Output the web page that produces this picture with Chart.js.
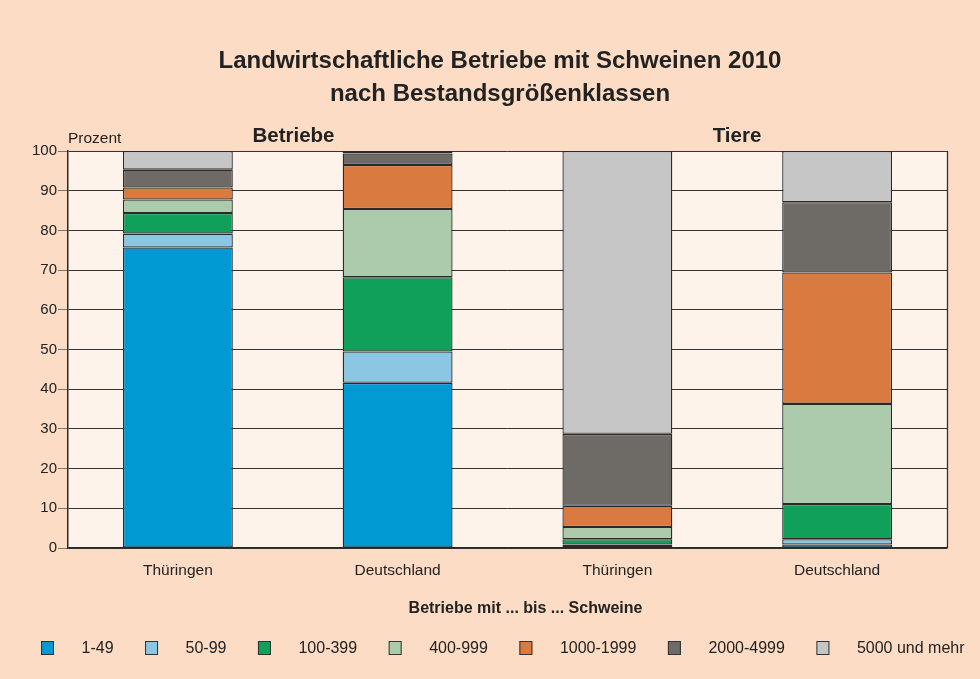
<!DOCTYPE html>
<html>
<head>
<meta charset="utf-8">
<script src="https://cdn.jsdelivr.net/npm/chart.js@4/dist/chart.umd.min.js"></script>
<style>
html,body{margin:0;padding:0;background:#FCDCC4;}
canvas{display:block;}
</style>
</head>
<body>
<canvas id="c" width="980" height="679"></canvas>
<script>
// ---- data ----
const categories = ['Thüringen', 'Deutschland', 'Thüringen', 'Deutschland'];
const groupLabels = ['Betriebe', 'Tiere'];
const seriesNames = ['1-49', '50-99', '100-399', '400-999', '1000-1999', '2000-4999', '5000 und mehr'];
const s1_49      = [75.7, 41.6, 0.5, 0.9];
const s50_99     = [3.5, 7.9, 0.4, 1.3];
const s100_399   = [5.2, 18.7, 1.3, 8.9];
const s400_999   = [3.4, 17.2, 3.1, 25.2];
const s1000_1999 = [3.0, 11.1, 5.35, 33.1];
const s2000_4999 = [4.5, 2.9, 18.1, 17.7];
const s5000plus  = [4.7, 0.6, 71.25, 12.9];
const yTicks = [0, 10, 20, 30, 40, 50, 60, 70, 80, 90, 100];
const titleLines = ['Landwirtschaftliche Betriebe mit Schweinen 2010', 'nach Bestandsgrößenklassen'];
const yAxisLabel = 'Prozent';
const xAxisTitle = 'Betriebe mit ... bis ... Schweine';

const seriesValues = [s1_49, s50_99, s100_399, s400_999, s1000_1999, s2000_4999, s5000plus];
const colors = ['#0099D2', '#8BC7E3', '#11A05A', '#ACCBAC', '#D97B40', '#6E6B66', '#C6C6C6'];
const FONT = '"Liberation Sans", Arial, Helvetica, sans-serif';
const TXT = '#222222';

const decor = {
  id: 'decor',
  beforeDraw(chart) {
    const ctx = chart.ctx, a = chart.chartArea;
    ctx.save();
    ctx.fillStyle = '#FCDCC4';
    ctx.fillRect(0, 0, chart.width, chart.height);
    ctx.fillStyle = '#FEF3EA';
    ctx.fillRect(a.left, a.top, a.right - a.left, a.bottom - a.top);
    ctx.restore();
  },
  afterDraw(chart) {
    const ctx = chart.ctx, a = chart.chartArea;
    ctx.save();
    // frame right
    ctx.strokeStyle = '#333';
    ctx.lineWidth = 1.3;
    ctx.beginPath();
    ctx.moveTo(Math.round(a.right) + 0.5, a.top);
    ctx.lineTo(Math.round(a.right) + 0.5, a.bottom);
    ctx.stroke();
    ctx.fillStyle = TXT;
    // title
    ctx.font = 'bold 24px ' + FONT;
    ctx.textAlign = 'center';
    ctx.textBaseline = 'alphabetic';
    ctx.fillText(titleLines[0], 500, 68);
    ctx.fillText(titleLines[1], 500, 101);
    // group headers
    ctx.font = 'bold 20.5px ' + FONT;
    ctx.fillText(groupLabels[0], 293.5, 142);
    ctx.fillText(groupLabels[1], 737, 142);
    // y label
    ctx.font = '15.5px ' + FONT;
    ctx.textAlign = 'left';
    ctx.fillText(yAxisLabel, 68, 143);
    // x axis title
    ctx.font = 'bold 16px ' + FONT;
    ctx.textAlign = 'center';
    ctx.fillText(xAxisTitle, 525.5, 613);
    // legend
    ctx.font = '16px ' + FONT;
    ctx.textAlign = 'left';
    let x = 41;
    chart.data.datasets.forEach((ds) => {
      ctx.fillStyle = ds.backgroundColor;
      ctx.fillRect(x, 641, 13, 14);
      ctx.strokeStyle = '#333';
      ctx.lineWidth = 1;
      ctx.strokeRect(x + 0.5, 641.5, 12, 13);
      ctx.fillStyle = TXT;
      const tx = x + 40.5;
      ctx.fillText(ds.label, tx, 653);
      x = tx + ctx.measureText(ds.label).width + 31.5;
    });
    ctx.restore();
  }
};

new Chart(document.getElementById('c'), {
  type: 'bar',
  data: {
    labels: categories,
    datasets: seriesNames.map((n, i) => ({
      label: n,
      data: seriesValues[i],
      backgroundColor: colors[i],
      borderColor: '#2a2a2a',
      borderWidth: 1.3,
      borderSkipped: false
    }))
  },
  options: {
    responsive: false,
    devicePixelRatio: 1,
    animation: false,
    barPercentage: 0.5,
    categoryPercentage: 1,
    layout: { padding: { left: 0, right: 33, top: 151, bottom: 0 } },
    plugins: {
      legend: { display: false },
      title: { display: false },
      tooltip: { enabled: false }
    },
    scales: {
      x: {
        stacked: true,
        grid: { display: false, drawTicks: false },
        border: { display: true, color: '#2a2a2a', width: 1.5 },
        ticks: { color: TXT, font: { family: FONT, size: 15.5 }, padding: 13 },
        afterFit(s) { s.height = 131; }
      },
      y: {
        stacked: true,
        min: 0,
        max: 100,
        afterBuildTicks(s) { s.ticks = yTicks.map(v => ({ value: v })); },
        grid: { color: '#333333', lineWidth: 1, drawTicks: true, tickLength: 10, tickColor: '#777' },
        border: { display: true, color: '#2a2a2a', width: 1.5 },
        ticks: { color: TXT, font: { family: FONT, size: 15 }, padding: 1 },
        afterFit(s) { s.width = 68; }
      }
    }
  },
  plugins: [decor]
});
</script>
</body>
</html>
